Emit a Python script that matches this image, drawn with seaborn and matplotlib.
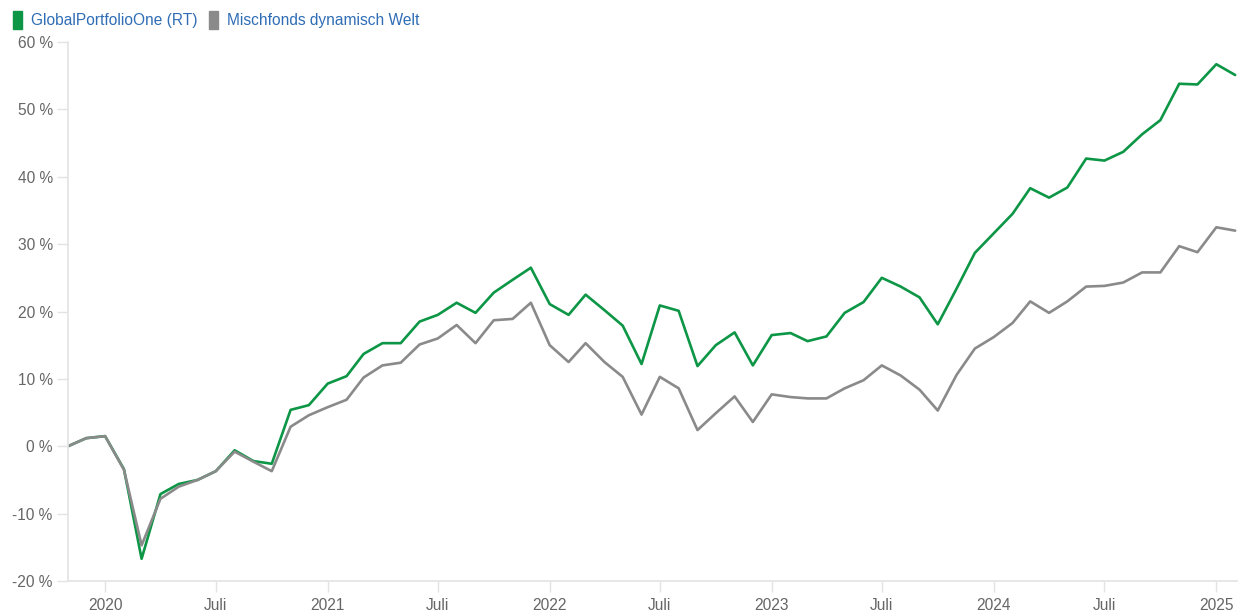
import numpy as np
import pandas as pd
import matplotlib
matplotlib.use("Agg")
import matplotlib.pyplot as plt
import matplotlib.dates as mdates
from matplotlib.patches import Patch
from matplotlib.ticker import FuncFormatter
import seaborn as sns

# ---- data ----
dates = pd.date_range("2019-11-01", "2025-02-01", freq="MS")
series_names = ["GlobalPortfolioOne (RT)", "Mischfonds dynamisch Welt"]
fund = [0.0, 1.2, 1.5, -3.4, -16.7, -7.1, -5.6, -5.0, -3.7, -0.6, -2.2, -2.6,
        5.4, 6.1, 9.3, 10.4, 13.7, 15.3, 15.3, 18.5, 19.5, 21.3, 19.8, 22.8,
        24.7, 26.5, 21.1, 19.5, 22.5, 20.2, 17.9, 12.2, 20.9, 20.1, 11.9, 15.0,
        16.9, 12.0, 16.5, 16.8, 15.6, 16.3, 19.8, 21.4, 25.0, 23.7, 22.1, 18.1,
        23.4, 28.7, 31.6, 34.5, 38.3, 36.9, 38.4, 42.7, 42.4, 43.7, 46.3, 48.4,
        53.8, 53.7, 56.7, 55.1]
peer = [0.0, 1.2, 1.5, -3.5, -14.7, -7.8, -6.0, -5.0, -3.7, -0.8, -2.3, -3.7,
        2.9, 4.6, 5.8, 6.9, 10.2, 12.0, 12.4, 15.1, 16.0, 18.0, 15.3, 18.7,
        18.9, 21.3, 15.0, 12.5, 15.3, 12.5, 10.3, 4.7, 10.3, 8.6, 2.4, 4.9,
        7.4, 3.6, 7.7, 7.3, 7.1, 7.1, 8.6, 9.8, 12.0, 10.5, 8.4, 5.3,
        10.6, 14.5, 16.2, 18.3, 21.5, 19.8, 21.5, 23.7, 23.8, 24.3, 25.8, 25.8,
        29.7, 28.8, 32.5, 32.0]
y_ticks = [-20, -10, 0, 10, 20, 30, 40, 50, 60]
colors = ["#0c9646", "#8a8a8a"]

df = pd.concat([
    pd.DataFrame({"date": dates, "value": fund, "series": series_names[0]}),
    pd.DataFrame({"date": dates, "value": peer, "series": series_names[1]}),
])

sns.set_theme(style="white")
plt.rcParams["font.family"] = ["Liberation Sans", "DejaVu Sans"]

fig = plt.figure(figsize=(12.39, 6.12), dpi=100)
ax = fig.add_axes([68 / 1239, 31 / 612, (1237 - 68) / 1239, (581 - 42) / 612])

sns.lineplot(data=df, x="date", y="value", hue="series", palette=colors,
             hue_order=series_names, linewidth=1.9, ax=ax, legend=False)

ax.set_ylim(-20, 60)
ax.set_xlim(dates[0], dates[-1] + pd.Timedelta(days=3))
ax.set_yticks(y_ticks)
ax.yaxis.set_major_formatter(FuncFormatter(lambda v, p: f"{int(v)} %"))

ax.xaxis.set_major_locator(mdates.MonthLocator(bymonth=[1, 7]))
ax.xaxis.set_major_formatter(FuncFormatter(
    lambda v, p: "Juli" if mdates.num2date(v).month == 7 else str(mdates.num2date(v).year)))

ax.set_xlabel("")
ax.set_ylabel("")
for s in ["top", "right"]:
    ax.spines[s].set_visible(False)
for s in ["left", "bottom"]:
    ax.spines[s].set_color("#e3e3e3")
    ax.spines[s].set_linewidth(1.2)

ax.tick_params(axis="y", which="major", left=True, length=8, width=1, color="#e3e3e3",
               labelsize=11.2, labelcolor="#666666", pad=3)
ax.tick_params(axis="x", which="major", bottom=True, length=8, width=1, color="#e3e3e3",
               labelsize=11.2, labelcolor="#666666", pad=4)
ax.grid(False)

handles = [Patch(facecolor=c, edgecolor=c) for c in colors]
leg = fig.legend(handles, series_names, loc="upper left", bbox_to_anchor=(13 / 1239, 1 - 11 / 612),
                 ncol=2, frameon=False, handlelength=0.55, handleheight=1.4,
                 handletextpad=0.6, columnspacing=0.75, fontsize=11.2,
                 borderaxespad=0, borderpad=0)
for t in leg.get_texts():
    t.set_color("#2f6db5")

fig.savefig("out.png", dpi=100)
